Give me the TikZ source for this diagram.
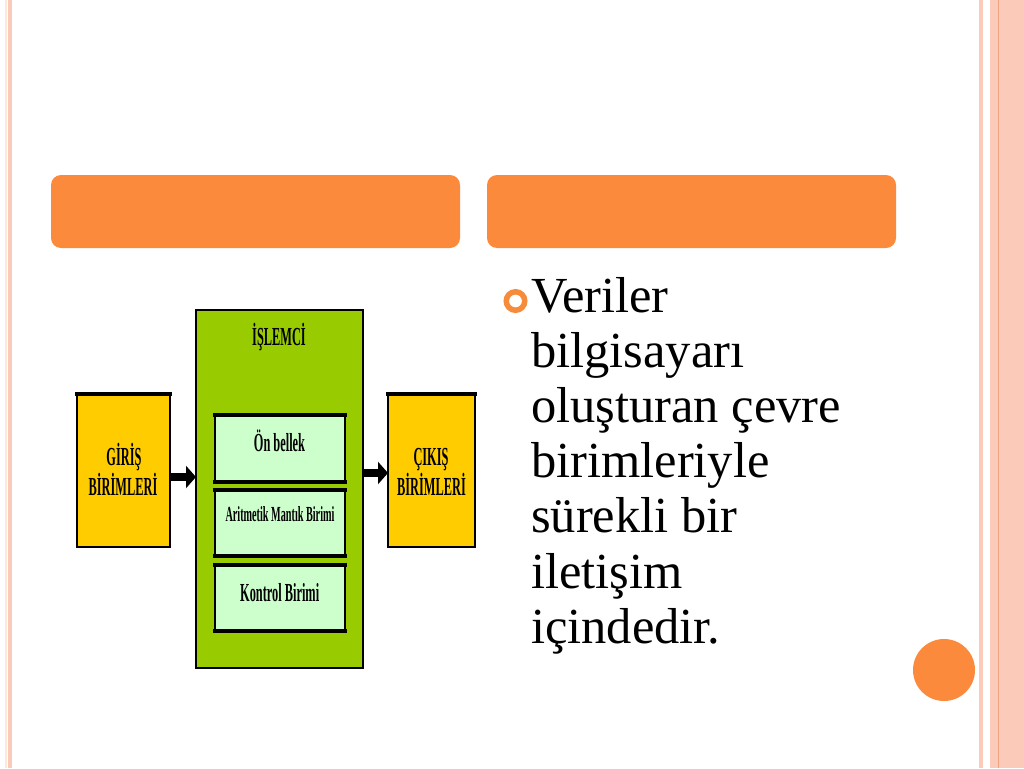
\documentclass[tikz,border=0pt]{standalone}
\usepackage{fontspec}
\setmainfont{Liberation Serif}
\newfontfamily\diagfont[FakeStretch=0.475]{Liberation Serif}
\usetikzlibrary{arrows.meta}
\definecolor{barorange}{HTML}{FB8A3C}
\definecolor{ringorange}{HTML}{F68B3C}
\definecolor{borderpink}{HTML}{FCCAB8}
\definecolor{borderline}{HTML}{EFA285}
\definecolor{bordercream}{HTML}{FBEADB}
\definecolor{unitgold}{HTML}{FFCC00}
\definecolor{cpugreen}{HTML}{99CC00}
\definecolor{partgreen}{HTML}{CCFFCC}
\begin{document}
\begin{tikzpicture}[x=1pt,y=-1pt,
  box/.style={draw=black, line width=1.5pt, inner sep=0pt, outer sep=0pt, rectangle},
  unitbox/.style={box, fill=unitgold, minimum width=93pt, minimum height=153pt},
  cpubox/.style={box, fill=cpugreen, line width=2pt, minimum width=167pt, minimum height=358pt},
  partbox/.style={box, fill=partgreen, minimum width=130pt, minimum height=66pt},
  thickedge/.style={line width=4pt, line cap=rect},
  dlabel/.style={font=\diagfont\bfseries\fontsize{26}{26}\selectfont, text=black, anchor=base, inner sep=0pt},
  dsmall/.style={font=\diagfont\bfseries\fontsize{21.5}{21.5}\selectfont, text=black, anchor=base, inner sep=0pt},
  flow/.style={line width=7.5pt, -{Triangle[length=10pt 0 0,width=22pt 0 0]}},
  bar/.style={fill=barorange, rounded corners=10pt, minimum width=409pt, minimum height=73pt, inner sep=0pt},
  bodytext/.style={font=\fontsize{50.5}{55}\selectfont, anchor=base west, inner sep=0pt},
]
% page
\fill[white] (0,0) rectangle (1024,768);
\useasboundingbox (0,0) rectangle (1024,768);
% side borders
\fill[bordercream] (5,0) rectangle (7,768);
\fill[borderpink] (8,0) rectangle (12,768);
\fill[borderpink] (979,0) rectangle (983,768);
\fill[borderpink] (990,0) rectangle (1024,768);
\fill[borderline] (998,0) rectangle (999.3,768);
% title bars
\node[bar] (barL) at (255.5,211.5) {};
\node[bar] (barR) at (691.5,211.5) {};
% decorative circle
\node[circle, fill=barorange, minimum size=62pt, inner sep=0pt] (dot) at (944,670) {};

% diagram
\node[unitbox] (giris) at (123.5,470.5) {};
\node[unitbox, minimum width=87pt] (cikis) at (431.5,470.5) {};
\node[cpubox] (cpu) at (279.5,489) {};
\node[partbox, minimum height=67pt] (onb) at (280,448.5) {};
\node[partbox] (alu) at (280,523) {};
\node[partbox] (ctrl) at (280,598) {};
\draw[thickedge] (giris.north west) -- (giris.north east);
\draw[thickedge] (cikis.north west) -- (cikis.north east);
\foreach \b in {onb,alu,ctrl}{
  \draw[thickedge] (\b.north west) -- (\b.north east);
  \draw[thickedge] (\b.south west) -- (\b.south east);
}
% labels
\node[dlabel] (cpuT) at (279,345) {İŞLEMCİ};
\node[dlabel] (girisT1) at (124,465) {GİRİŞ};
\node[dlabel] (girisT2) at (123,495) {BİRİMLERİ};
\node[dlabel] (cikisT1) at (431,465) {ÇIKIŞ};
\node[dlabel] (cikisT2) at (431.5,495) {BİRİMLERİ};
\node[dlabel] (onbT) at (279.5,451.5) {Ön bellek};
\node[dsmall] (aluT) at (280,521.5) {Aritmetik Mantık Birimi};
\node[dlabel] (ctrlT) at (279.7,601.5) {Kontrol Birimi};
% arrows
\coordinate (ya) at (0,477);
\coordinate (yb) at (0,473);
\draw[flow] (giris.east |- ya) -- (cpu.west |- ya);
\draw[flow] (cpu.east |- yb) -- (cikis.west |- yb);

% bullet text
\node[circle, draw=ringorange, line width=5.5pt, minimum size=18.5pt, inner sep=0pt] (bullet) at (515.5,301) {};
\foreach \t [count=\i from 0] in {Veriler, bilgisayarı, oluşturan çevre, birimleriyle, sürekli bir, iletişim, içindedir.}{
  \node[bodytext] (line\i) at (531,312+55.2*\i) {\t};
}
\end{tikzpicture}
\end{document}
